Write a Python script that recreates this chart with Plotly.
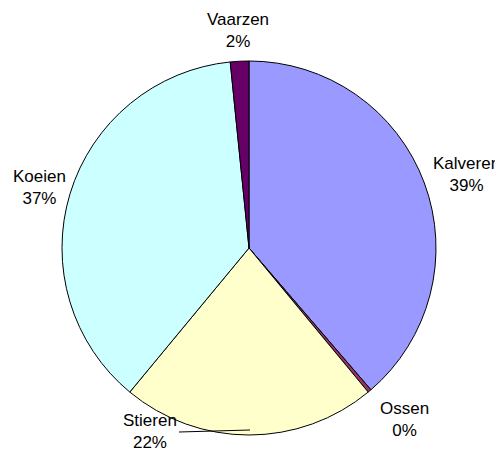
import plotly.graph_objects as go

categories = ["Kalveren", "Ossen", "Stieren", "Koeien", "Vaarzen"]
values = [38.7, 0.3, 22.0, 37.4, 1.6]
colors = ["#9999FF", "#993366", "#FFFFCC", "#CCFFFF", "#660066"]
# label text centers in pixels (x, y from top of window)
label_pos = [(466, 174), (404, 419), (150, 431), (40, 187), (238, 30)]

W, H = 503, 453
OFF = 8  # page body margin
cx, cy, r = 249 - OFF, 248 - OFF, 187

total = sum(values)
pct = [f"{round(v / total * 100)}%" for v in values]

fig = go.Figure(go.Pie(
    labels=categories, values=values, sort=False, direction="clockwise",
    rotation=0, marker=dict(colors=colors, line=dict(color="black", width=1)),
    textinfo="none", hoverinfo="label+percent", showlegend=False,
    domain=dict(x=[(cx - r) / W, (cx + r) / W], y=[(H - cy - r) / H, (H - cy + r) / H]),
))

for name, p, (x, y) in zip(categories, pct, label_pos):
    fig.add_annotation(x=(x - OFF) / W, y=1 - (y - OFF) / H, xref="paper", yref="paper",
                       text=f"{name}<br>{p}", showarrow=False, align="center",
                       xanchor="center", yanchor="middle",
                       font=dict(family="Liberation Sans, Arial", size=17, color="black"))

fig.add_shape(type="line", xref="paper", yref="paper",
              x0=(179 - OFF) / W, y0=1 - (432 - OFF) / H,
              x1=(250 - OFF) / W, y1=1 - (430 - OFF) / H,
              line=dict(color="black", width=1))

fig.update_layout(width=W, height=H, margin=dict(l=0, r=0, t=0, b=0),
                  paper_bgcolor="white", plot_bgcolor="white")
fig.write_html("out.html")
